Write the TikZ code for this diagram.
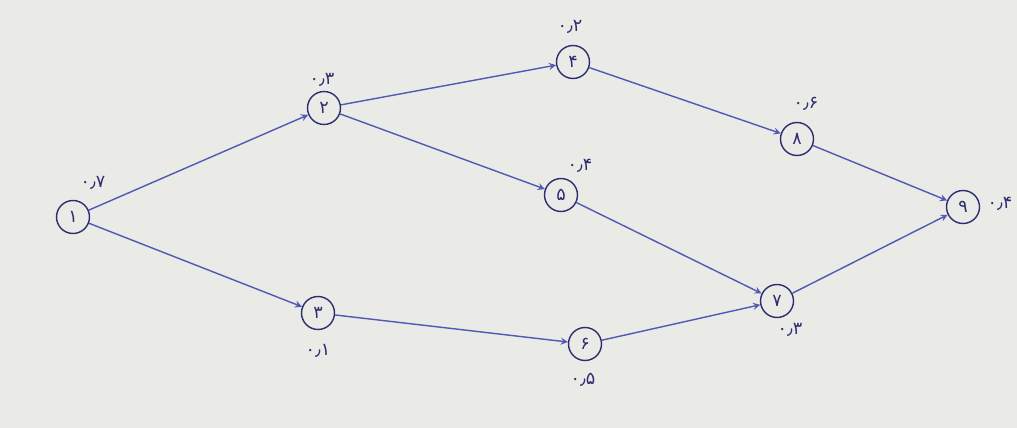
\documentclass[tikz,border=0pt]{standalone}
\usepackage{fontspec}
\usepackage{xcolor}
\usepackage{tikz}
\usetikzlibrary{positioning}
\newfontfamily\fafont[Script=Arabic]{DejaVu Sans}
\definecolor{paper}{RGB}{234,234,230}
\definecolor{ink}{RGB}{80,90,180}
\definecolor{rim}{RGB}{45,45,115}

\tikzset{
  state/.style={circle, draw=rim, thick, minimum size=0.66cm, inner sep=0pt, text=rim, font=\fafont},
  tag/.style={text=rim, font=\fafont, inner sep=1pt},
  edge/.style={ink, thick, ->, >=stealth}
}

\begin{document}
\begin{tikzpicture}[x=0.02cm, y=-0.02cm]
\fill[paper] (0,0) rectangle (1017,428);
\useasboundingbox (0,0) rectangle (1017,428);
% nodes
\node[state] (n1) at (73,217) {۱};
\node[state] (n2) at (324,108) {۲};
\node[state] (n3) at (318,313) {۳};
\node[state] (n4) at (573,62) {۴};
\node[state] (n5) at (561,195) {۵};
\node[state] (n6) at (585,344) {۶};
\node[state] (n7) at (777,301) {۷};
\node[state] (n8) at (797,139) {۸};
\node[state] (n9) at (963,207) {۹};
% values
\node[tag] (t1) at (93,183) {۰٫۷};
\node[tag] (t2) at (322,80) {۰٫۳};
\node[tag] (t3) at (318,351) {۰٫۱};
\node[tag] (t4) at (570,27) {۰٫۲};
\node[tag] (t5) at (580,166) {۰٫۴};
\node[tag] (t6) at (583,380) {۰٫۵};
\node[tag] (t7) at (790,330) {۰٫۳};
\node[tag] (t8) at (806,104) {۰٫۶};
\node[tag] (t9) at (1000,204) {۰٫۴};
% arrows
\draw[edge] (n1) -- (n2);
\draw[edge] (n1) -- (n3);
\draw[edge] (n2) -- (n4);
\draw[edge] (n2) -- (n5);
\draw[edge] (n3) -- (n6);
\draw[edge] (n4) -- (n8);
\draw[edge] (n5) -- (n7);
\draw[edge] (n6) -- (n7);
\draw[edge] (n8) -- (n9);
\draw[edge] (n7) -- (n9);
\end{tikzpicture}
\end{document}
